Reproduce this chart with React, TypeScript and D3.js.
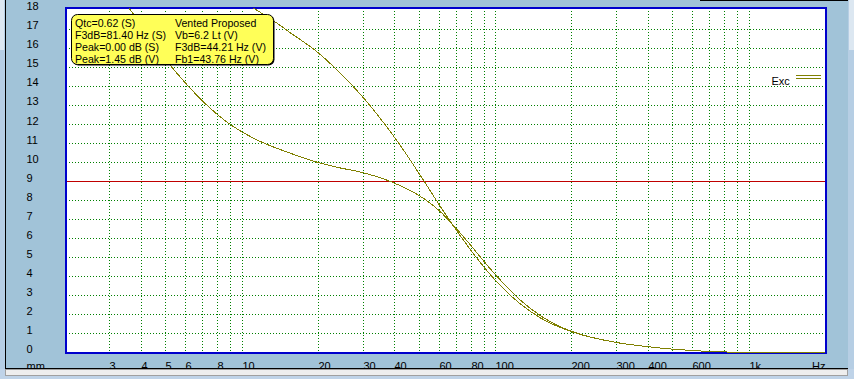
import React from 'react';
import * as d3 from 'd3';

const W = 854;
const H = 379;

// axis ticks
const yTickValues = d3.range(0, 19);
const yGridValues = [1, 2, 3, 4, 5, 6, 7, 8, 10, 11, 12, 13, 14, 15, 16, 17];
const refLineValue = 9;
const xGridFreqs = [3, 4, 5, 6, 7, 8, 9, 10, 20, 30, 40, 50, 60, 70, 80, 90, 100, 200, 300, 400, 500, 600, 700, 800, 900, 1000];
const xLabelFreqs = [3, 4, 5, 6, 8, 10, 20, 30, 40, 60, 80, 100, 200, 300, 400, 600, 1000];
const xLabelTexts = ['3', '4', '5', '6', '8', '10', '20', '30', '40', '60', '80', '100', '200', '300', '400', '600', '1k'];

// excursion curves (mm vs Hz)
const sealedFreq = [10, 11.3, 13.5, 15.4, 19.7, 23.6, 27.4, 30.5, 36.0, 41.9, 51.8, 59.8, 69.0, 80.0, 90.7, 100, 124.6, 149.4, 179, 200, 300, 400, 500, 600, 700, 1000, 2000];
const sealedExc = [18.46, 18.04, 17.39, 16.84, 15.83, 14.88, 14.0, 13.31, 12.12, 10.93, 9.09, 7.8, 6.56, 5.38, 4.45, 3.8, 2.6, 1.86, 1.35, 1.11, 0.55, 0.33, 0.2, 0.13, 0.08, 0.03, 0.0];
const ventedFreq = [3.3, 3.6, 5.19, 6.03, 7.02, 7.93, 8.81, 10.09, 11.74, 15.43, 19.66, 23.6, 30.0, 39.4, 49.5, 60.3, 69.0, 80, 90.7, 100, 124.6, 149.4, 179, 200, 300, 400, 500, 600, 700, 1000, 2000];
const ventedExc = [18.75, 18.07, 15.13, 14.12, 13.2, 12.56, 12.08, 11.58, 11.12, 10.5, 10.03, 9.76, 9.47, 8.95, 8.3, 7.44, 6.62, 5.63, 4.75, 4.1, 2.8, 1.98, 1.39, 1.13, 0.55, 0.33, 0.2, 0.13, 0.08, 0.03, 0.0];

const infoLeft = ['Qtc=0.62 (S)', 'F3dB=81.40 Hz (S)', 'Peak=0.00 dB (S)', 'Peak=1.45 dB (V)'];
const infoRight = ['Vented Proposed', 'Vb=6.2 Lt (V)', 'F3dB=44.21 Hz (V)', 'Fb1=43.76 Hz (V)'];
const legendLabel = 'Exc';
const yUnit = 'mm';
const xUnit = 'Hz';

const BG = '#A1C3D8';
const GRID = '#008000';
const OLIVE = '#808000';
const BLUE = '#0000CC';
const RED = '#C00000';
const FONT = "'Liberation Sans', Arial, sans-serif";

export default function App() {
  const x = d3.scaleLog().domain([2, 2000]).range([65, 825.5]);
  const y = d3.scaleLinear().domain([0, 18]).range([353, 10.3]);
  const px = (v: number) => Math.floor(v) + 0.5;

  const line = d3
    .line<[number, number]>()
    .x((d) => x(d[0]))
    .y((d) => y(d[1]))
    .curve(d3.curveMonotoneX);

  const sealedPath = line(sealedFreq.map((f, i) => [f, sealedExc[i]] as [number, number])) || '';
  const ventedPath = line(ventedFreq.map((f, i) => [f, ventedExc[i]] as [number, number])) || '';

  const plotL = 65.5, plotT = 8.3, plotR = 825.5, plotB = 352.8;

  return (
    <svg
      width={W}
      height={H}
      style={{ position: 'absolute', left: 0, top: 0, display: 'block' }}
      fontFamily={FONT}
      fontSize={11}
    >
      <defs>
        <clipPath id="plotClip">
          <rect x={plotL - 1} y={plotT} width={plotR - plotL + 2} height={plotB - plotT + 1.5} />
        </clipPath>
      </defs>
      <rect width={W} height={H} fill={BG} />
      {/* window frame pieces */}
      <rect x={0} y={0} width={5} height={H} fill="#B6CEE4" />
      <rect x={0} y={0} width={4} height={50} fill="#DCE7F1" />
      <rect x={848} y={0} width={6} height={H} fill="#B6CEE4" />
      <rect x={849} y={0} width={5} height={50} fill="#DCE7F1" />
      <line x1={5.5} y1={0} x2={5.5} y2={369} stroke="#000" strokeWidth={1} />
      <line x1={700} y1={0.5} x2={848} y2={0.5} stroke="#000" strokeWidth={1} />

      {/* plot background */}
      <rect x={plotL} y={plotT} width={plotR - plotL} height={plotB - plotT} fill="#fff" />

      {/* grid */}
      <g shapeRendering="crispEdges">
        {yGridValues.map((v) => (
          <line key={'h' + v} x1={plotL} x2={plotR} y1={px(y(v))} y2={px(y(v))} stroke={GRID} strokeWidth={1} strokeDasharray="1,2" />
        ))}
        {xGridFreqs.map((f) => (
          <line key={'v' + f} x1={px(x(f))} x2={px(x(f))} y1={plotT} y2={plotB} stroke={GRID} strokeWidth={1} strokeDasharray="1,2" />
        ))}
        <line x1={plotL} x2={plotR} y1={px(y(refLineValue))} y2={px(y(refLineValue))} stroke={RED} strokeWidth={1} />
        <rect x={plotL} y={plotT} width={plotR - plotL} height={plotB - plotT} fill="none" stroke={BLUE} strokeWidth={2} />
      </g>

      {/* curves */}
      <g clipPath="url(#plotClip)" fill="none" stroke={OLIVE} strokeWidth={1} shapeRendering="crispEdges">
        <path d={sealedPath} />
        <path d={ventedPath} />
      </g>

      {/* info box */}
      <rect x={72.5} y={15.5} width={202} height={50} rx={6} fill="#000" />
      <rect x={71.5} y={14.5} width={202} height={50} rx={6} fill="#FFFF58" stroke="#000" strokeWidth={1} />
      <g fontSize={10.6}>
        {infoLeft.map((t, i) => (
          <text key={'il' + i} x={75} y={26.5 + i * 12} fill="#000">{t}</text>
        ))}
        {infoRight.map((t, i) => (
          <text key={'ir' + i} x={175} y={26.5 + i * 12} fill="#000">{t}</text>
        ))}
      </g>

      {/* legend */}
      <text x={771.5} y={85} fill="#000">{legendLabel}</text>
      <g shapeRendering="crispEdges" stroke={OLIVE} strokeWidth={1}>
        <line x1={796} x2={821} y1={75.5} y2={75.5} />
        <line x1={796} x2={821} y1={78.5} y2={78.5} />
      </g>

      {/* y axis labels */}
      {yTickValues.map((v) => (
        <text key={'yl' + v} x={26.5} y={y(v)} fill="#000">{v}</text>
      ))}

      {/* x axis labels */}
      {xLabelFreqs.map((f, i) => (
        <text key={'xl' + f} x={px(x(f))} y={370} fill="#000">{xLabelTexts[i]}</text>
      ))}
      <text x={26.5} y={370} fill="#000">{yUnit}</text>
      <text x={812} y={370} fill="#000">{xUnit}</text>

      {/* bottom bar */}
      <rect x={0} y={369} width={W} height={10} fill="#BFD3E8" />
      <line x1={5} y1={368.5} x2={848} y2={368.5} stroke="#000" strokeWidth={1} />
      <rect x={5.5} y={369.5} width={842} height={6} fill="#EEEEEE" stroke="#A0A0A0" strokeWidth={1} />
    </svg>
  );
}
